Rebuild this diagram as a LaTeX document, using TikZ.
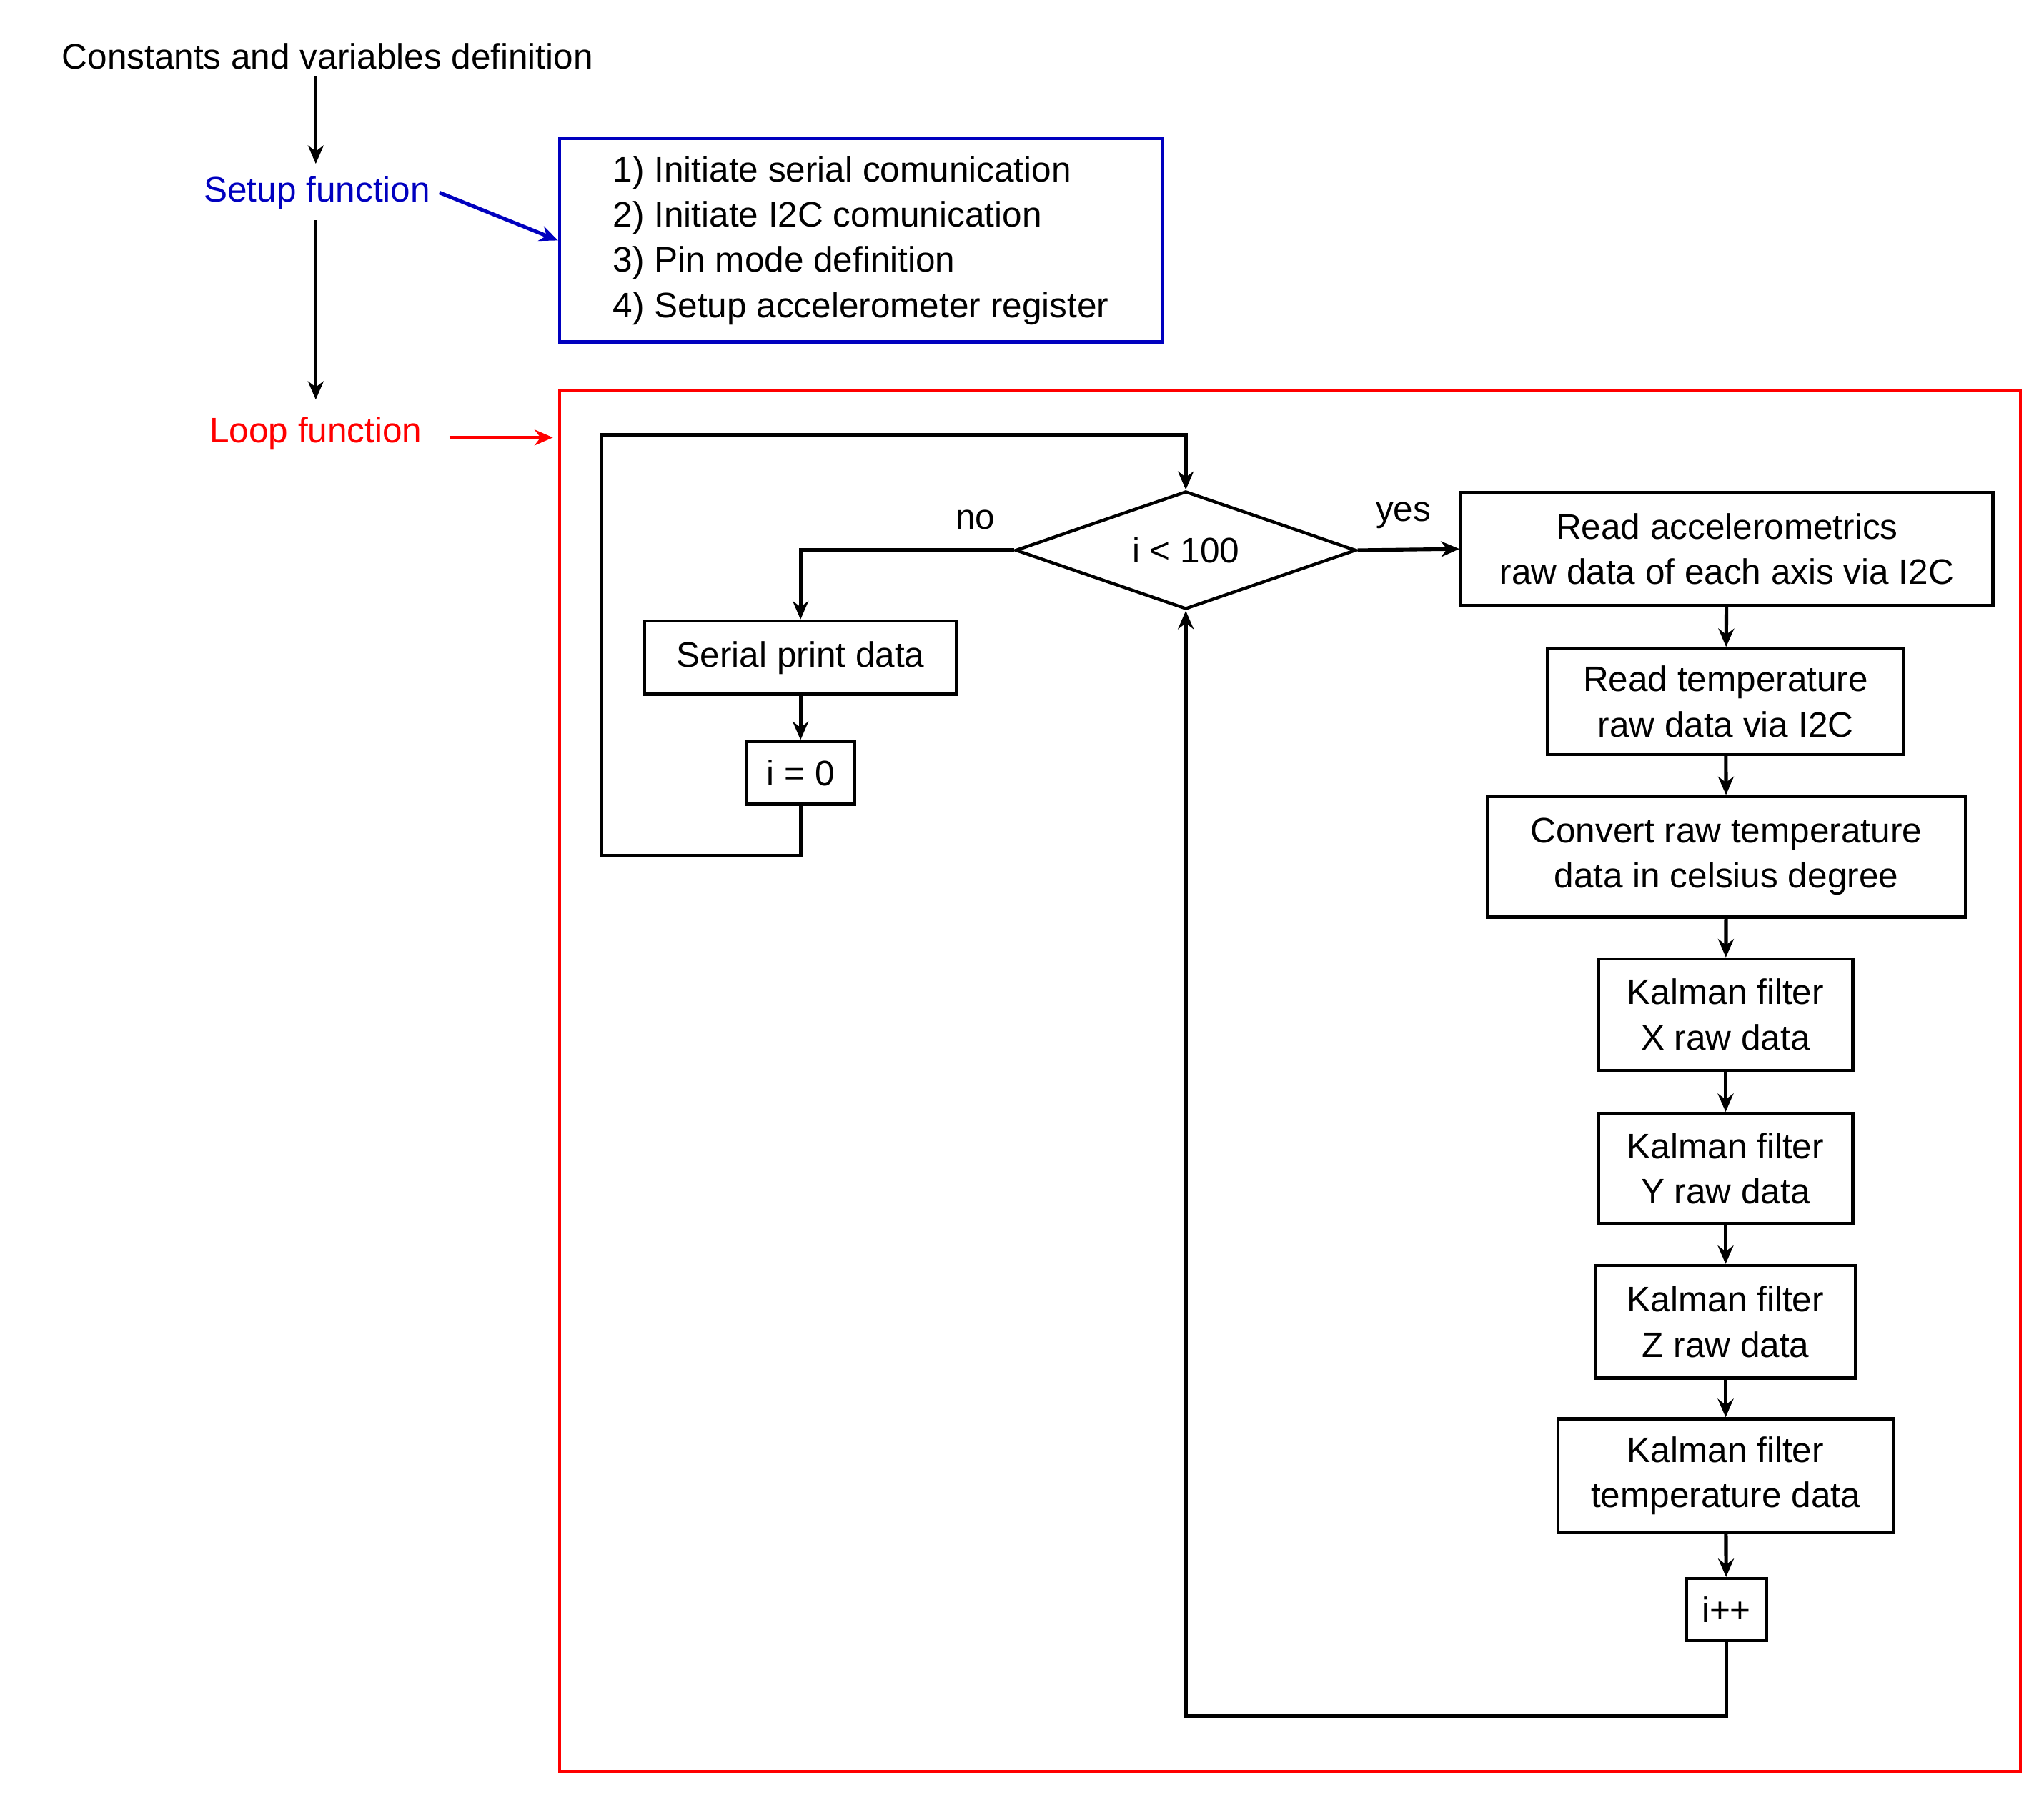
\documentclass[tikz,border=0pt]{standalone}
\usepackage{fontspec}
\setmainfont{Liberation Sans}
\usetikzlibrary{arrows.meta,shapes.geometric}
\begin{document}
\begin{tikzpicture}[x=0.5pt,y=-0.5pt,
  every node/.style={font=\fontsize{13.5}{17.3}\selectfont},
  box/.style={draw,line width=1.2pt,align=center,inner sep=0pt},
  ln/.style={line width=1.4pt},
  arr/.style={ln,-{Stealth[length=7pt,width=6pt]}}]
\useasboundingbox (0,0) rectangle (1560,1370);
% top
\node (c) at (250,43) {Constants and variables definition};
\node[text=blue!75!black] (s) at (242,147) {Setup function};
\node[text=red] (l) at (241,331) {Loop function};
\node[draw=blue!75!black,line width=1.1pt,minimum width=230pt,minimum height=77.5pt,align=left,inner sep=0pt] (sb) at (657,183.5)
 {1) Initiate serial comunication\\2) Initiate I2C comunication\\3) Pin mode definition\\4) Setup accelerometer register};
\node[draw=red,line width=1.1pt,minimum width=557.5pt,minimum height=527pt,inner sep=0pt] (lb) at (984.5,825) {};
\coordinate (c1) at (241,58);
\coordinate (c2) at (241,125);
\coordinate (c3) at (241,168);
\coordinate (c4) at (241,305);
\draw[arr] (c1) -- (c2);
\draw[arr] (c3) -- (c4);
\draw[arr,blue!75!black] (s.east) -- (sb.west);
\coordinate (l1) at (343,334);
\coordinate (l2) at (422,334);
\draw[arr,red] (l1) -- (l2);
% loop contents
\node[draw,diamond,aspect=2.9,line width=1.2pt,minimum width=130pt,minimum height=45pt,inner sep=0pt] (d) at (905,420) {i < 100};
\node[box,minimum width=203pt,minimum height=43pt] (r1) at (1318,419) {Read accelerometrics\\raw data of each axis via I2C};
\node[box,minimum width=136pt,minimum height=40.5pt] (r2) at (1317,535.5) {Read temperature\\raw data via I2C};
\node[box,minimum width=182.5pt,minimum height=46pt] (r3) at (1317.5,654) {Convert raw temperature\\data in celsius degree};
\node[box,minimum width=97pt,minimum height=42.5pt] (kx) at (1317,774.5) {Kalman filter\\X raw data};
\node[box,minimum width=97pt,minimum height=42pt] (ky) at (1317,892) {Kalman filter\\Y raw data};
\node[box,minimum width=99pt,minimum height=43pt] (kz) at (1317,1009) {Kalman filter\\Z raw data};
\node[box,minimum width=128pt,minimum height=43.5pt] (kt) at (1317,1126.5) {Kalman filter\\temperature data};
\node[box,minimum width=30.5pt,minimum height=23.5pt] (ip) at (1317.5,1228.5) {i++};
\node[box,minimum width=119pt,minimum height=28pt] (sp) at (611,502) {Serial print data};
\node[box,minimum width=41pt,minimum height=24pt] (i0) at (611,590) {i = 0};
\draw[arr] (r1) -- (r2);
\draw[arr] (r2) -- (r3);
\draw[arr] (r3) -- (kx);
\draw[arr] (kx) -- (ky);
\draw[arr] (ky) -- (kz);
\draw[arr] (kz) -- (kt);
\draw[arr] (kt) -- (ip);
\draw[arr] (sp) -- (i0);
\draw[arr] (d.east) -- node[above=4pt,pos=0.45] {yes} (r1.west);
\draw[arr] (d.west) -- node[above=4pt,pos=0.18] {no} (611,420) -- (sp.north);
\coordinate (b1) at (611,653);
\coordinate (b2) at (459,653);
\coordinate (b3) at (459,332);
\coordinate (b4) at (905,332);
\draw[arr] (i0.south) -- (b1) -- (b2) -- (b3) -- (b4) -- (d.north);
\coordinate (e1) at (1317.5,1310);
\coordinate (e2) at (905,1310);
\draw[arr] (ip.south) -- (e1) -- (e2) -- (d.south);
\end{tikzpicture}
\end{document}
